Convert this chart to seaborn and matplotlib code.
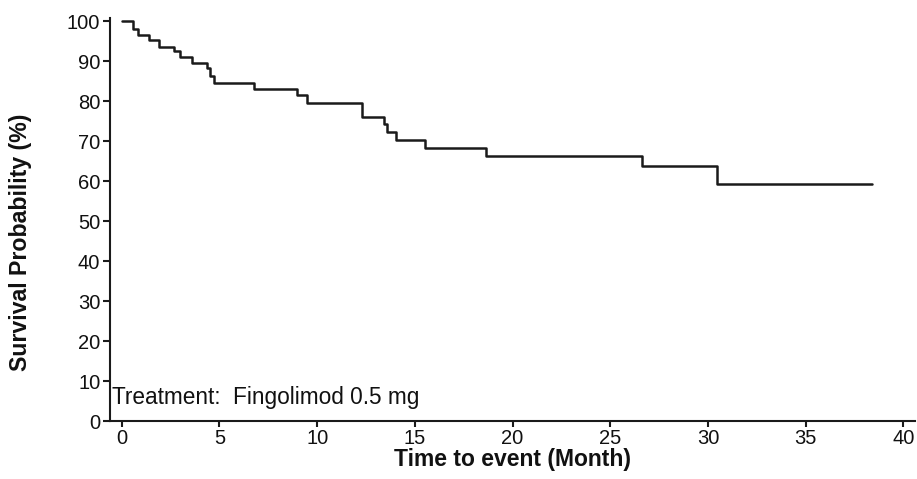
import numpy as np
import pandas as pd
import matplotlib.pyplot as plt
import seaborn as sns

# Kaplan-Meier steps (time in months, survival in %)
times = [0, 0.6, 0.81, 1.37, 1.88, 2.68, 2.99, 3.59, 4.38, 4.52, 4.73, 6.77,
         8.98, 9.49, 12.27, 13.41, 13.55, 14.01, 15.52, 18.63, 26.6, 30.48, 38.37]
survival = [100, 98.2, 96.7, 95.4, 93.6, 92.5, 91.0, 89.5, 88.3, 86.3, 84.7, 83.2,
            81.7, 79.7, 76.1, 74.25, 72.3, 70.4, 68.4, 66.25, 63.75, 59.25, 59.25]
x_ticks = [0, 5, 10, 15, 20, 25, 30, 35, 40]
y_ticks = [0, 10, 20, 30, 40, 50, 60, 70, 80, 90, 100]

df = pd.DataFrame({'time': times, 'surv': survival})

sns.set_style('white')
plt.rcParams['font.family'] = ['Liberation Sans', 'DejaVu Sans']
plt.rcParams['text.color'] = '#111111'
plt.rcParams['axes.labelcolor'] = '#111111'
plt.rcParams['xtick.color'] = '#111111'
plt.rcParams['ytick.color'] = '#111111'

fig = plt.figure(figsize=(9.17, 4.79), dpi=100)
ax = fig.add_axes([0.12, 0.121, 0.878, 0.841])

sns.lineplot(data=df, x='time', y='surv', drawstyle='steps-post',
             estimator=None, color='#1a1a1a', linewidth=1.8, ax=ax)

ax.set_xlim(-0.6, 40.6)
ax.set_ylim(0, 100.8)
ax.set_xticks(x_ticks)
ax.set_yticks(y_ticks)
ax.tick_params(axis='both', labelsize=14.5, direction='out', width=1.5,
               color='#1a1a1a', labelcolor='#111111', pad=2, bottom=True, left=True)
ax.tick_params(axis='x', length=4)
ax.tick_params(axis='y', length=5)

for side in ['top', 'right']:
    ax.spines[side].set_visible(False)
for side in ['left', 'bottom']:
    ax.spines[side].set_color('#1a1a1a')
    ax.spines[side].set_linewidth(1.5)

ax.set_xlabel('Time to event (Month)', fontsize=16.5, fontweight='bold', labelpad=0)
ax.set_ylabel('Survival Probability (%)', fontsize=16.7, fontweight='bold')
ax.yaxis.set_label_coords(-0.097, 0.443)

ax.text(0.003, 0.03, 'Treatment:  Fingolimod 0.5 mg', transform=ax.transAxes,
        fontsize=16.3, ha='left', va='bottom')

plt.savefig('out.png', dpi=100)
